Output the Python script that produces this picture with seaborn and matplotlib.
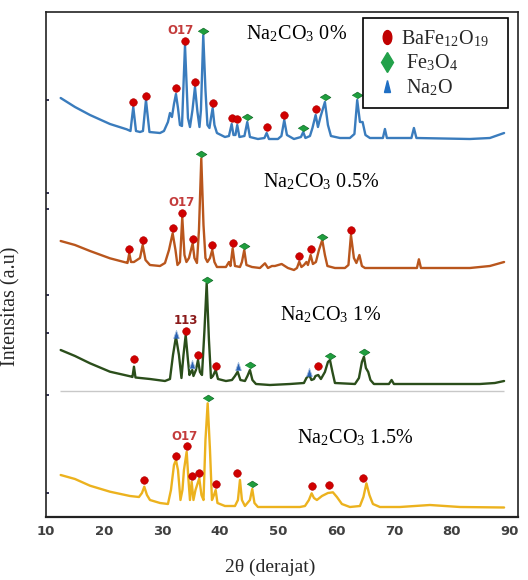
import matplotlib
matplotlib.use("Agg")
import matplotlib.pyplot as plt
from matplotlib.lines import Line2D
from matplotlib.markers import MarkerStyle
from matplotlib.transforms import Affine2D
import seaborn as sns

# sample names, vertical stacking offsets and curve colours
samples = ["0%", "0.5%", "1%", "1.5%"]
offsets = [378, 249, 133, 10]
line_colors = ["#3a7cbd", "#b9561d", "#2b4e1b", "#ecb21e"]

# XRD patterns: 2theta (deg) and intensity (a.u.) above each baseline
tt_0 = [12.53, 15.0, 17.59, 21.03, 23.91, 24.57, 25.05, 25.52, 26.21, 26.72, 27.24, 27.84, 29.66, 30.34,
        31.03, 31.38, 31.72, 32.07, 32.41, 32.76, 33.10, 33.45, 33.97, 34.48, 34.83, 35.26, 35.69, 36.12,
        36.47, 36.72, 37.12, 37.50, 37.84, 38.19, 38.45, 38.74, 39.05, 39.48, 40.86, 41.55, 42.02, 42.33,
        42.67, 42.98, 43.36, 44.22, 44.71, 45.17, 46.55, 47.67, 48.05, 48.45, 50.0, 50.60, 51.09, 51.55,
        52.76, 53.97, 54.36, 54.74, 55.52, 55.95, 56.5, 56.90, 57.33, 58.10, 58.62, 59.14, 60.69, 62.41,
        63.19, 63.67, 64.14, 64.60, 65.09, 65.86, 68.10, 68.45, 68.79, 73.02, 73.45, 73.88, 83.10, 86.55, 89.0]
int_0 = [41, 32, 24, 15, 9.7, 8, 32, 8, 7, 8, 39, 7, 6, 8,
         17, 26, 22, 35, 45, 31, 14, 13, 94, 21, 12, 29, 52, 27,
         12, 29, 104, 49, 14, 11, 21, 31, 14, 6, 2, 3, 15, 4,
         4, 14, 2, 3, 17, 2, 0, 1, 6, 0, 0, 3, 19, 4,
         0, 2, 7, 1, 3, 11, 24, 12, 22, 37, 14, 3, 1, 1,
         5, 39, 17, 17, 4, 1, 1, 10, 1, 1, 11, 1, 0, 1, 6]

tt_05 = [12.53, 15.0, 17.59, 21.03, 23.91, 24.05, 24.36, 24.66, 25.17, 26.21, 26.67, 27.16, 27.93, 29.66,
         30.52, 31.21, 31.84, 32.33, 32.67, 33.10, 33.50, 33.88, 34.22, 34.66, 35.0, 35.29, 35.60, 36.03,
         36.38, 36.78, 37.16, 37.50, 37.84, 38.28, 38.67, 39.05, 39.48, 41.03, 41.55, 41.81, 42.19, 42.59,
         43.45, 43.79, 44.19, 44.57, 45.52, 46.90, 47.76, 48.28, 48.97, 49.48, 50.64, 51.72, 52.76, 53.28,
         53.67, 54.05, 54.48, 54.91, 55.17, 55.64, 56.03, 56.55, 57.07, 57.64, 58.10, 58.53, 59.83, 61.55,
         62.16, 62.59, 63.10, 63.53, 64.05, 64.48, 65.0, 67.59, 73.97, 74.31, 74.66, 83.10, 86.55, 89.0]
int_05 = [27, 23, 17, 9.7, 5.3, 5, 14.7, 6, 6, 10, 23, 8, 3, 2,
          5, 18, 34.7, 18, 3, 6, 50.7, 13, 6, 10, 18, 24.7, 10, 5,
          38, 109.7, 43, 10, 6, 10, 18, 6, 1, 1, 6, 2, 19.7, 2,
          1, 6, 18, 3, 1, 0, 4.7, 0, 2, 2, 4, 0, -2, 0,
          6.3, 1, 3, 6, 3, 13, 4, 6, 18, 28, 13, 2, 0, 0,
          3, 33, 10, 5, 13, 2, 0, 0, 0, 8.7, 0, 0, 2, 6]

tt_1 = [12.53, 15.0, 17.59, 21.03, 24.66, 24.91, 25.17, 25.43, 27.93, 30.52, 31.38, 31.90, 32.41, 32.93,
        33.36, 33.71, 34.09, 34.48, 34.74, 35.0, 35.22, 35.43, 35.86, 36.21, 36.55, 36.90, 37.33, 37.71,
        38.10, 38.45, 38.79, 39.26, 39.66, 41.03, 42.07, 42.59, 43.05, 43.53, 44.31, 44.74, 45.17, 45.60,
        46.21, 48.62, 52.07, 54.48, 54.91, 55.40, 55.78, 56.21, 56.47, 56.95, 57.41, 58.10, 58.62, 58.97,
        59.40, 59.83, 63.28, 63.97, 64.48, 64.83, 65.17, 65.57, 65.95, 66.55, 69.14, 69.60, 70.0, 77.93,
        84.83, 87.41, 89.0]
int_1 = [34, 28, 20.7, 12.3, 7.5, 7, 17.3, 6.5, 5, 3, 5, 29, 47.3, 29,
         6, 29, 49, 24, 9, 12, 14, 8, 14, 24, 12, 9, 54, 100.7,
         44, 6, 8, 14, 5, 3, 4, 8, 12.3, 4, 3, 8, 14, 4,
         0, -1, 0, 1, 6, 9, 4, 5, 8, 9, 5, 12, 22, 24,
         12, 1, 0, 6, 22, 27.3, 16, 12, 4, 0, 0, 4, 0, 0,
         0, 1, 3]

tt_15 = [12.53, 15.0, 17.59, 21.03, 24.48, 26.03, 26.55, 26.95, 27.41, 27.93, 29.66, 31.03, 31.55, 32.07,
         32.41, 32.76, 33.19, 33.53, 33.79, 34.26, 34.57, 34.83, 35.12, 35.43, 35.78, 36.43, 36.81, 37.16,
         37.50, 37.88, 38.28, 38.62, 38.97, 39.26, 39.57, 40.86, 42.59, 43.10, 43.45, 43.79, 44.31, 45.17,
         45.57, 45.95, 46.55, 53.79, 54.66, 55.34, 55.81, 56.21, 56.72, 57.59, 58.62, 59.48, 60.17, 61.03,
         62.41, 64.14, 64.74, 65.26, 65.78, 66.38, 67.59, 71.03, 73.62, 76.21, 78.79, 81.38, 89.0]
int_15 = [32, 28, 21.3, 15.3, 11, 10, 14, 20.3, 12, 7, 4, 3, 17, 42,
          47, 37, 7, 17, 37, 55.3, 27, 7, 25.3, 7, 17, 28.7, 12, 7,
          67, 103.7, 57, 7, 12, 17, 4, 1, 1, 7, 27, 7, 1, 7,
          18, 4, 0, 0, 1, 7, 13.7, 9, 7, 11, 14, 14.7, 10, 3,
          0, 1, 10, 23.7, 12, 3, 0, 0, 1, 2, 1, 0, -0.5]

patterns_tt = [tt_0, tt_05, tt_1, tt_15]
patterns_int = [int_0, int_05, int_1, int_15]

# phase markers per sample: 2theta and marker height above baseline
ba_tt = [[25.05, 27.24, 32.41, 33.97, 35.69, 38.74, 42.02, 42.98, 48.05, 51.09, 56.5],
         [24.36, 26.67, 31.84, 33.5, 35.29, 38.67, 42.19, 53.67, 55.64, 62.59],
         [25.17, 34.09, 36.21, 39.26, 56.95],
         [26.95, 32.41, 34.26, 35.12, 36.43, 39.26, 42.88, 55.81, 58.84, 64.71]]
ba_int = [[37, 43, 51, 98, 57, 36, 21, 20, 12, 24, 30],
          [18.7, 27.7, 39.7, 55.3, 29, 23, 25.3, 12.3, 18.7, 38],
          [25, 53.3, 29, 18, 18.3],
          [27, 51, 61, 31, 34.3, 22.7, 33.7, 21.3, 22, 29.3]]
fe_tt = [[37.12, 44.71, 54.36, 58.10, 63.67],
         [36.78, 44.19, 57.64],
         [37.71, 45.17, 58.97, 64.83],
         [37.88, 45.57]]
fe_int = [[108, 22, 11, 42, 44],
          [113.7, 22, 31.3],
          [104, 19, 28.3, 31.7],
          [108.7, 22.7]]
na_tt = [[], [], [32.41, 35.22, 43.05, 55.40], []]
na_int = [[], [], [49.7, 19.7, 18.3, 11.7], []]

# hkl labels over the strongest BaFe12O19 reflection
hkl_text = ["O17", "O17", "113", "O17"]
hkl_tt = [33.28, 33.45, 34.14, 33.97]
hkl_int = [108, 65, 64, 71]
hkl_colors = ["#c43c3c", "#c43c3c", "#8b1a1a", "#c43c3c"]

sns.set_theme(style="white")
plt.rcParams["font.family"] = ["Liberation Serif", "DejaVu Serif"]
plt.rcParams["mathtext.fontset"] = "stix"

fig = plt.figure(figsize=(5.28, 5.8), dpi=100)
ax = fig.add_axes([46 / 528, 63 / 580, 472 / 528, 505 / 580])

diamond = MarkerStyle([(-1, 0), (0, 0.62), (1, 0), (0, -0.62)])
triangle = MarkerStyle([(-0.7, -1), (0, 1), (0.7, -1)])

for i, name in enumerate(samples):
    off = offsets[i]
    y = [v + off for v in patterns_int[i]]
    sns.lineplot(x=patterns_tt[i], y=y, ax=ax, color=line_colors[i], lw=1.7,
                 estimator=None, sort=False, solid_joinstyle="round")
    if ba_tt[i]:
        sns.scatterplot(x=ba_tt[i], y=[v + off for v in ba_int[i]], ax=ax, marker="o",
                        s=30, color="#d00000", edgecolor="#b00000", linewidth=0.4, zorder=5)
    if fe_tt[i]:
        sns.scatterplot(x=fe_tt[i], y=[v + off for v in fe_int[i]], ax=ax, marker=diamond,
                        s=60, color="#1f9e3e", edgecolor="#126b28", linewidth=0.5, zorder=5)
    if na_tt[i]:
        sns.scatterplot(x=na_tt[i], y=[v + off for v in na_int[i]], ax=ax, marker=triangle,
                        s=36, color="#2a62b3", edgecolor="#a8c0de", linewidth=0.6, zorder=5)
    ax.text(hkl_tt[i], hkl_int[i] + off, hkl_text[i], ha="center", va="center",
            fontsize=8.5, fontweight="bold", color=hkl_colors[i], family="DejaVu Sans")

# thin reference line under the 1% pattern
ax.hlines(126, 12.5, 89.0, color="#c8c8c8", lw=1.0)

# sample names
name_tt = [44.48, 47.41, 50.34, 53.22]
name_y = [477.4, 329.3, 196.8, 73.4]
for i, name in enumerate(samples):
    ax.text(name_tt[i], name_y[i], r"Na$_\mathregular{2}$CO$_\mathregular{3}$ " + name,
            ha="left", va="baseline", fontsize=14.5, color="black")

ax.set_xlim(10, 91.4)
ax.set_ylim(0, 505)
ax.set_xticks(range(10, 91, 10))
ax.set_xticks(range(15, 90, 10), minor=True)
ax.set_yticks([24, 122, 184, 222, 308, 324, 417])
ax.set_yticklabels([])
ax.tick_params(axis="x", which="major", length=0, pad=6, labelsize=9.5, labelcolor="#404040")
ax.tick_params(axis="x", which="minor", direction="in", length=3, width=1.2, color="black")
ax.tick_params(axis="y", direction="in", length=2.5, width=1.4, color="#333355", left=True)
for lab in ax.get_xticklabels():
    lab.set_fontfamily("DejaVu Sans")
    lab.set_fontweight("bold")

for side in ["left", "right", "top", "bottom"]:
    ax.spines[side].set_color("#222222")
    ax.spines[side].set_linewidth(1.2)
ax.spines["bottom"].set_linewidth(1.6)

ax.set_xlabel("2θ (derajat)", fontsize=14)
ax.xaxis.set_label_coords(0.476, -0.082)
ax.set_ylabel("Intensitas (a.u)", fontsize=14.5)
ax.yaxis.set_label_coords(-0.055, 0.418)

handles = [
    Line2D([], [], ls="none", marker=MarkerStyle("o", transform=Affine2D().scale(0.62, 1.0)),
           markersize=10, color="#c00000"),
    Line2D([], [], ls="none", marker="d", markersize=10, color="#22a14a"),
    Line2D([], [], ls="none", marker=MarkerStyle("^", transform=Affine2D().scale(0.55, 1.0)),
           markersize=9, color="#1f6fc4"),
]
labels = [r"BaFe$_\mathregular{12}$O$_\mathregular{19}$", r" Fe$_\mathregular{3}$O$_\mathregular{4}$",
          r" Na$_\mathregular{2}$O"]
leg = ax.legend(handles, labels, loc="upper left", bbox_to_anchor=(0.672, 0.81, 0.307, 0.178),
                mode="expand", borderaxespad=0, fontsize=14.5, frameon=True, fancybox=False,
                framealpha=1, edgecolor="black", borderpad=0.5, labelspacing=0.2,
                handlelength=1.4, handletextpad=0.0)
leg.get_frame().set_linewidth(1.2)

fig.savefig("out.png", dpi=100)
